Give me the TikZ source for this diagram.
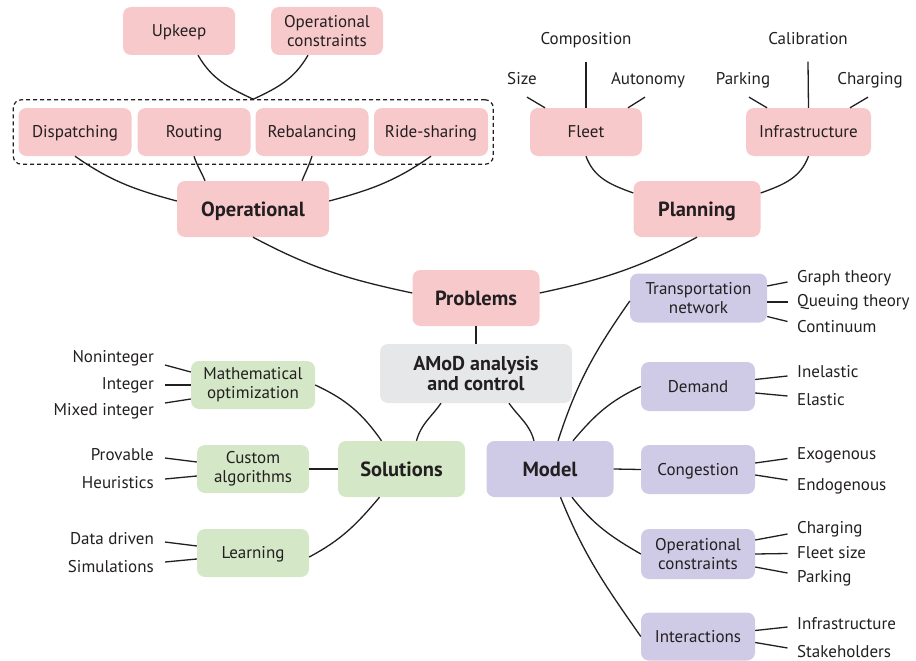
\documentclass[tikz,border=0pt]{standalone}
\usepackage{fontspec}
\setmainfont{PT Sans}
\usepackage{tikz}
\usetikzlibrary{positioning, fit}

\definecolor{inkdark}{HTML}{231F20}
\definecolor{probpink}{HTML}{F8C9CB}
\definecolor{modelblue}{HTML}{CFCBE7}
\definecolor{solgreen}{HTML}{D4E8C8}
\definecolor{coregray}{HTML}{E6E7E8}

\tikzset{
	box/.style={rounded corners=8pt, minimum width=112pt, minimum height=48pt, align=center, inner sep=2pt, text=inkdark, font=\fontsize{17}{19}\selectfont},
	solo/.style={text height=11.9pt, text depth=0pt},
	pinkbox/.style={box, fill=probpink},
	bluebox/.style={box, fill=modelblue},
	greenbox/.style={box, fill=solgreen},
	hub/.style={box, minimum width=127pt, minimum height=56pt, text height=14.4pt, text depth=0pt, font=\fontsize{20.5}{21}\selectfont\bfseries},
	corebox/.style={box, fill=coregray, minimum width=192pt, minimum height=59pt, font=\fontsize{20}{20.5}\selectfont\bfseries},
	leaf/.style={inner sep=0pt, text height=11.9pt, text depth=0pt, text=inkdark, font=\fontsize{17}{19}\selectfont},
	link/.style={draw=inkdark, line width=1.3pt},
}

\begin{document}
\begin{tikzpicture}[x=1pt, y=1pt]
	\useasboundingbox (0, 0) rectangle (916, -661);

	% problems: operational branch
	\node	(upkeep)	at	(179, -31)		[pinkbox, solo]	{Upkeep};
	\node	(opcona)	at	(327, -31)		[pinkbox]	{Operational\\constraints};
	\node	(disp)		at	(75, -132)		[pinkbox, solo, minimum width=113pt]	{Dispatching};
	\node	(rout)		at	(194, -132)		[pinkbox, solo, minimum width=113pt]	{Routing};
	\node	(rebal)		at	(312, -132)		[pinkbox, solo, minimum width=113pt]	{Rebalancing};
	\node	(ride)		at	(431, -132)		[pinkbox, solo, minimum width=114pt]	{Ride-sharing};
	\node	(opgroup)	[fit=(disp)(ride), inner xsep=5pt, inner ysep=8pt, draw=inkdark, line width=1.2pt, dash pattern=on 4pt off 3pt, rounded corners=8pt]	{};
	\node	(oper)		at	(253, -209)		[pinkbox, hub, minimum width=152pt]	{Operational};

	% problems: planning branch
	\node	(fleet)		at	(586, -132)		[pinkbox, solo]	{Fleet};
	\node	(infra)		at	(808.5, -132)	[pinkbox, solo, minimum width=125pt]	{Infrastructure};
	\node	(plan)		at	(697, -209)		[pinkbox, hub]	{Planning};
	\node	(size)		at	(522, -79)		[leaf]	{Size};
	\node	(compo)		at	(586, -39)		[leaf]	{Composition};
	\node	(auton)		at	(648, -79)		[leaf]	{Autonomy};
	\node	(park)		at	(743, -79)		[leaf]	{Parking};
	\node	(calib)		at	(808, -39)		[leaf]	{Calibration};
	\node	(charg)		at	(870, -79)		[leaf]	{Charging};

	% core
	\node	(probs)		at	(476, -298)		[pinkbox, hub]	{Problems};
	\node	(amod)		at	(476, -373.5)	[corebox]	{AMoD analysis\\and control};
	\node	(sol)		at	(401.5, -469)	[greenbox, hub]	{Solutions};
	\node	(model)		at	(550, -469)		[bluebox, hub]	{Model};

	% solutions
	\node	(mathopt)	at	(253, -385)		[greenbox, minimum width=124pt]	{Mathematical\\optimization};
	\node	(custom)	at	(253, -469)		[greenbox]	{Custom\\algorithms};
	\node	(learn)		at	(253, -553)		[greenbox, solo]	{Learning};
	\node	(nonint)	at	(154, -357)		[leaf, anchor=east]	{Noninteger};
	\node	(integ)		at	(154, -384)		[leaf, anchor=east]	{Integer};
	\node	(mixed)		at	(154, -410)		[leaf, anchor=east]	{Mixed integer};
	\node	(prov)		at	(154, -455)		[leaf, anchor=east]	{Provable};
	\node	(heur)		at	(154, -483)		[leaf, anchor=east]	{Heuristics};
	\node	(data)		at	(154, -539)		[leaf, anchor=east]	{Data driven};
	\node	(simu)		at	(154, -567)		[leaf, anchor=east]	{Simulations};

	% model
	\node	(transp)	at	(698.5, -298)	[bluebox, minimum width=137pt, minimum height=49pt]	{Transportation\\network};
	\node	(demand)	at	(698, -386.5)	[bluebox, solo, minimum width=114pt, minimum height=49pt]	{Demand};
	\node	(cong)		at	(698, -469.5)	[bluebox, solo, minimum width=114pt, minimum height=49pt]	{Congestion};
	\node	(opconb)	at	(698, -554)		[bluebox, minimum width=114pt, minimum height=50pt]	{Operational\\constraints};
	\node	(inter)		at	(698, -636.5)	[bluebox, solo, minimum width=114pt]	{Interactions};
	\node	(graph)		at	(797, -277)		[leaf, anchor=west]	{Graph theory};
	\node	(queue)		at	(797, -301)		[leaf, anchor=west]	{Queuing theory};
	\node	(cont)		at	(797, -327)		[leaf, anchor=west]	{Continuum};
	\node	(inel)		at	(797, -372)		[leaf, anchor=west]	{Inelastic};
	\node	(elas)		at	(797, -400)		[leaf, anchor=west]	{Elastic};
	\node	(exog)		at	(797, -453.5)	[leaf, anchor=west]	{Exogenous};
	\node	(endog)		at	(797, -485)		[leaf, anchor=west]	{Endogenous};
	\node	(chargb)	at	(797, -528)		[leaf, anchor=west]	{Charging};
	\node	(fsize)		at	(797, -553)		[leaf, anchor=west]	{Fleet size};
	\node	(parkb)		at	(797, -577)		[leaf, anchor=west]	{Parking};
	\node	(infrab)	at	(797, -624)		[leaf, anchor=west]	{Infrastructure};
	\node	(stake)		at	(797, -651.5)	[leaf, anchor=west]	{Stakeholders};

	% connectors, problems
	\draw	[link]	([xshift=19pt]upkeep.south)	to[out=-60, in=155]	(opgroup.north);
	\draw	[link]	([xshift=-19pt]opcona.south)	to[out=-120, in=25]	(opgroup.north);
	\draw	[link]	(disp.south)	to[out=-35, in=165]	([yshift=8pt]oper.west);
	\draw	[link]	(rout.south)	to[out=-72, in=112]	([xshift=-48pt]oper.north);
	\draw	[link]	(rebal.south)	to[out=-108, in=68]	([xshift=49pt]oper.north);
	\draw	[link]	(ride.south)	to[out=-145, in=15]	([yshift=8pt]oper.east);
	\draw	[link]	(fleet.south)	to[out=-70, in=160]	([yshift=16pt]plan.west);
	\draw	[link]	(infra.south)	to[out=-110, in=20]	([yshift=16pt]plan.east);
	\draw	[link]	([shift={(5pt,-12pt)}]size.south)	--	([xshift=-41pt]fleet.north);
	\draw	[link]	([yshift=-16.5pt]compo.south)	--	(fleet.north);
	\draw	[link]	([shift={(-3pt,-12pt)}]auton.south)	--	([xshift=42pt]fleet.north);
	\draw	[link]	([shift={(6pt,-12pt)}]park.south)	--	([xshift=-41.5pt]infra.north);
	\draw	[link]	([yshift=-16.5pt]calib.south)	--	(infra.north);
	\draw	[link]	([shift={(-2pt,-12pt)}]charg.south)	--	([xshift=41.5pt]infra.north);
	\draw	[link]	(oper.south)	to[out=-28, in=168]	([yshift=5pt]probs.west);
	\draw	[link]	(plan.south)	to[out=-152, in=12]	([yshift=5pt]probs.east);

	% connectors, core
	\draw	[link]	(probs.south)	--	(amod.north);
	\draw	[link]	([xshift=-35pt]amod.south)	to[out=-125, in=75]	([xshift=15pt]sol.north);
	\draw	[link]	([xshift=33pt]amod.south)	to[out=-55, in=105]	([xshift=-16pt]model.north);

	% connectors, solutions
	\draw	[link]	(mathopt.east)	to[out=-25, in=125]	([xshift=-20pt]sol.north);
	\draw	[link]	(custom.east)	--	(sol.west);
	\draw	[link]	([yshift=-4pt]learn.east)	to[out=28, in=-130]	([xshift=-22pt]sol.south);
	\draw	[link]	([shift={(11pt,-8pt)}]nonint.east)	--	([yshift=13pt]mathopt.west);
	\draw	[link]	([shift={(11pt,-1pt)}]integ.east)	--	(mathopt.west);
	\draw	[link]	([shift={(11pt,7pt)}]mixed.east)	--	([yshift=-14pt]mathopt.west);
	\draw	[link]	([shift={(11pt,-3pt)}]prov.east)	--	([yshift=7pt]custom.west);
	\draw	[link]	([shift={(11pt,4pt)}]heur.east)	--	([yshift=-7pt]custom.west);
	\draw	[link]	([shift={(11pt,-3pt)}]data.east)	--	([yshift=7pt]learn.west);
	\draw	[link]	([shift={(11pt,5pt)}]simu.east)	--	([yshift=-6pt]learn.west);

	% connectors, model
	\draw	[link]	([xshift=8pt]model.north)	to[out=72, in=-125]	([yshift=-3pt]transp.west);
	\draw	[link]	([xshift=23pt]model.north)	to[out=50, in=-155]	(demand.west);
	\draw	[link]	(model.east)	--	(cong.west);
	\draw	[link]	([xshift=22pt]model.south)	to[out=-52, in=150]	(opconb.west);
	\draw	[link]	([xshift=10.5pt]model.south)	to[out=-68, in=125]	(inter.west);
	\draw	[link]	([yshift=12pt]transp.east)	--	([shift={(-9.5pt,-5pt)}]graph.west);
	\draw	[link]	([yshift=-4pt]transp.east)	--	([shift={(-9.5pt,-1pt)}]queue.west);
	\draw	[link]	([yshift=-18.5pt]transp.east)	--	([shift={(-9.5pt,5.5pt)}]cont.west);
	\draw	[link]	([yshift=7pt]demand.east)	--	([shift={(-9.5pt,-4pt)}]inel.west);
	\draw	[link]	([yshift=-6.5pt]demand.east)	--	([shift={(-9.5pt,4pt)}]elas.west);
	\draw	[link]	([yshift=6.5pt]cong.east)	--	([shift={(-9.5pt,-5pt)}]exog.west);
	\draw	[link]	([yshift=-5.5pt]cong.east)	--	([shift={(-9.5pt,5pt)}]endog.west);
	\draw	[link]	([yshift=14pt]opconb.east)	--	([shift={(-9.5pt,-6pt)}]chargb.west);
	\draw	[link]	(opconb.east)	--	([shift={(-9.5pt,-0.5pt)}]fsize.west);
	\draw	[link]	([yshift=-13pt]opconb.east)	--	([shift={(-9.5pt,4pt)}]parkb.west);
	\draw	[link]	([yshift=6pt]inter.east)	--	([shift={(-9.5pt,-3pt)}]infrab.west);
	\draw	[link]	([yshift=-6pt]inter.east)	--	([shift={(-9.5pt,3.5pt)}]stake.west);
\end{tikzpicture}
\end{document}
